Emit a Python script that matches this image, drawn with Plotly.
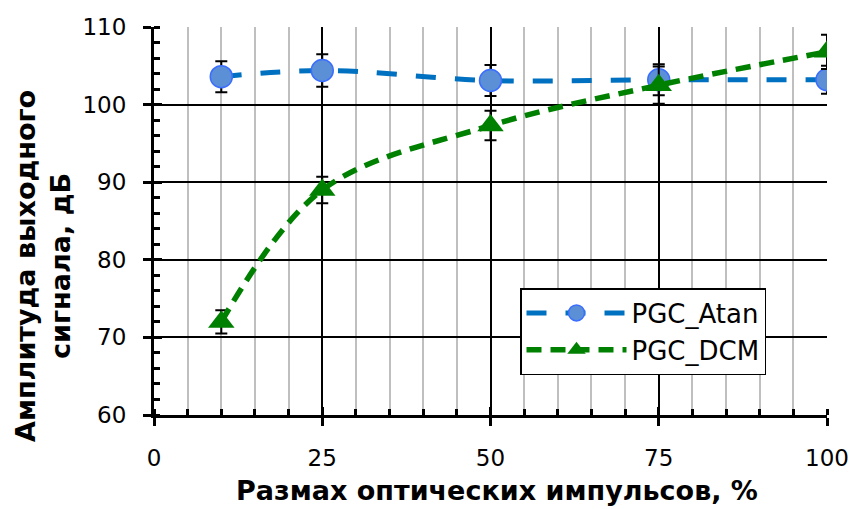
import plotly.graph_objects as go

x_vals = [10, 25, 50, 75, 100]
atan_vals = [103.6, 104.4, 103.1, 103.2, 103.2]
atan_err = [2.0, 2.1, 2.0, 2.0, 1.8]
dcm_vals = [72.0, 89.0, 97.3, 102.5, 106.8]
dcm_err = [1.5, 1.7, 1.9, 2.4, 2.2]

x_ticks = [0, 25, 50, 75, 100]
y_ticks = [60, 70, 80, 90, 100, 110]

fig = go.Figure()
fig.add_trace(go.Scatter(
    x=x_vals, y=atan_vals, name="PGC_Atan", mode="lines+markers",
    line=dict(color="#0070C0", width=5, dash="20px,19px", shape="spline"),
    marker=dict(symbol="circle", size=22, color="#5B8FD6", line=dict(color="#3B6EFF", width=1.5)),
    error_y=dict(type="data", array=atan_err, color="black", thickness=2, width=6),
))
fig.add_trace(go.Scatter(
    x=x_vals, y=dcm_vals, name="PGC_DCM", mode="lines+markers",
    line=dict(color="#008000", width=5.5, dash="15px,9px", shape="spline"),
    marker=dict(symbol="triangle-up", size=23, color="#008000", line=dict(color="#008000", width=0)),
    error_y=dict(type="data", array=dcm_err, color="black", thickness=2, width=6),
))
# invisible helper trace so the overlay axes (inner half of crossing major ticks) are drawn
fig.add_trace(go.Scatter(
    x=x_vals, y=atan_vals, xaxis="x2", yaxis="y2", mode="markers",
    marker=dict(opacity=0), showlegend=False, hoverinfo="skip",
))

tickfont = dict(family="DejaVu Sans", size=23, color="black")
fig.update_layout(
    width=851, height=509,
    margin=dict(l=154, r=24, t=27, b=94),
    paper_bgcolor="white", plot_bgcolor="white",
    showlegend=True,
    legend=dict(x=(520 - 154) / 673, y=1 - (288 - 27) / 388, xanchor="left", yanchor="top",
                orientation="v",
                bgcolor="white", bordercolor="black", borderwidth=1.5,
                font=dict(family="DejaVu Sans", size=26, color="black"),
                itemwidth=100, tracegroupgap=0),
    xaxis=dict(range=[0, 100], tickvals=x_ticks, ticks="outside", ticklen=8, tickwidth=3,
               tickcolor="black", showline=True, linecolor="black", linewidth=3,
               showgrid=True, gridcolor="black", gridwidth=2, zeroline=False,
               tickfont=tickfont, ticklabelstandoff=12, automargin=False,
               minor=dict(dtick=5, showgrid=True, gridcolor="#BFBFBF", gridwidth=2,
                          ticks="inside", ticklen=6, tickwidth=3, tickcolor="black")),
    yaxis=dict(range=[60, 110], tickvals=y_ticks, ticks="outside", ticklen=8, tickwidth=3,
               tickcolor="black", showline=True, linecolor="black", linewidth=3,
               showgrid=True, gridcolor="black", gridwidth=2, zeroline=False,
               tickfont=tickfont, ticklabelstandoff=12, automargin=False,
               minor=dict(dtick=2, showgrid=False, ticks="inside", ticklen=6,
                          tickwidth=3, tickcolor="black")),
    xaxis2=dict(overlaying="x", range=[0, 100], tickvals=x_ticks, automargin=False,
                ticks="inside", ticklen=8, tickwidth=3, tickcolor="black",
                showticklabels=False, showgrid=False, zeroline=False, showline=False,
                side="bottom", anchor="y2"),
    yaxis2=dict(overlaying="y", range=[60, 110], tickvals=y_ticks, automargin=False,
                ticks="inside", ticklen=8, tickwidth=3, tickcolor="black",
                showticklabels=False, showgrid=False, zeroline=False, showline=False,
                side="left", anchor="x2"),
)

fig.add_annotation(text="<b>Размах оптических импульсов, %</b>", xref="paper", yref="paper",
                   x=(497 - 154) / 673, y=(415 - 490) / 388, xanchor="center", yanchor="middle",
                   showarrow=False, font=dict(family="DejaVu Sans", size=27, color="black"))
fig.add_annotation(text="<b>Амплитуда выходного<br>сигнала, дБ</b>", xref="paper", yref="paper",
                   x=(43 - 154) / 673, y=(415 - 266) / 388, xanchor="center", yanchor="middle",
                   textangle=-90, showarrow=False,
                   font=dict(family="DejaVu Sans", size=27, color="black"))

fig.write_html("out.html")
